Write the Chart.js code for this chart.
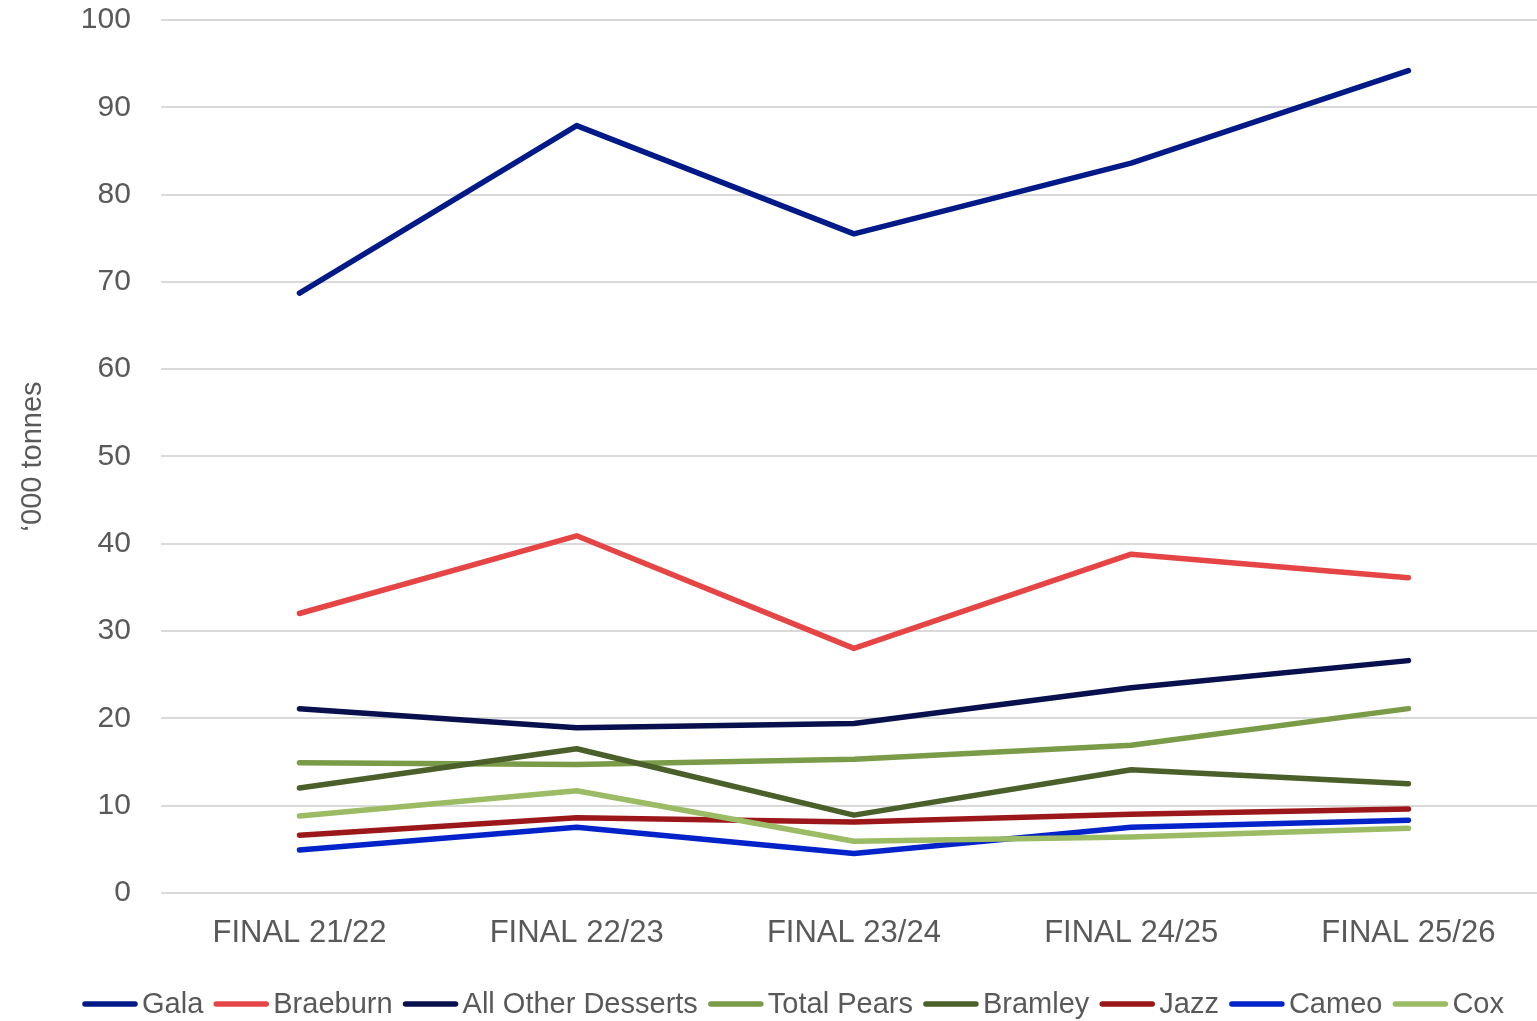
<!DOCTYPE html>
<html>
<head>
<meta charset="utf-8">
<script src="https://cdn.jsdelivr.net/npm/chart.js@4.4.1/dist/chart.umd.min.js"></script>
<style>
    html, body { margin: 0; padding: 0; background: #fff; overflow: hidden; }
    /* a touch wider than the window: the original plot runs past its right edge */
    #wrap { width: 1547px; height: 1021px; }
</style>
</head>
<body>
<div id="wrap"><canvas id="myLineChart"></canvas></div>
<script>
const seasons = ['FINAL 21/22', 'FINAL 22/23', 'FINAL 23/24', 'FINAL 24/25', 'FINAL 25/26'];

const gala = [68.7, 87.9, 75.5, 83.6, 94.2];
const braeburn = [32.0, 40.9, 28.0, 38.8, 36.1];
const allOtherDesserts = [21.1, 18.9, 19.4, 23.5, 26.6];
const totalPears = [14.9, 14.7, 15.3, 16.9, 21.1];
const bramley = [12.0, 16.5, 8.9, 14.1, 12.5];
const jazz = [6.6, 8.6, 8.1, 9.0, 9.6];
const cameo = [4.9, 7.5, 4.5, 7.5, 8.3];
const cox = [8.8, 11.7, 5.9, 6.4, 7.4];

const yTicks = [0, 10, 20, 30, 40, 50, 60, 70, 80, 90, 100];

const textColor = '#595959';
const fontFamily = '"Liberation Sans", Arial, sans-serif';

function makeLine(label, values, colour, index) {
    return {
        label: label,
        data: values,
        borderColor: colour,
        backgroundColor: colour,
        borderWidth: 5.5,
        borderCapStyle: 'round',
        borderJoinStyle: 'round',
        pointRadius: 0,
        pointHoverRadius: 0,
        fill: false,
        tension: 0,
        order: 7 - index // later series sit on top, as in the original
    };
}

// legend drawn by hand: short thick line then the name, tight like the original
const lineLegend = {
    id: 'lineLegend',
    afterDraw(chart) {
        const ctx = chart.ctx;
        const y = 1004;
        const segment = 56;
        let x = 82;
        ctx.save();
        ctx.font = '29px ' + fontFamily;
        ctx.textBaseline = 'middle';
        ctx.textAlign = 'left';
        chart.data.datasets.forEach((ds) => {
            ctx.strokeStyle = ds.borderColor;
            ctx.lineWidth = 5.5;
            ctx.lineCap = 'round';
            ctx.beginPath();
            ctx.moveTo(x + 3, y);
            ctx.lineTo(x + segment - 3, y);
            ctx.stroke();
            ctx.fillStyle = textColor;
            ctx.fillText(ds.label, x + segment + 4, y + 1);
            x += segment + 4 + ctx.measureText(ds.label).width + 10;
        });
        ctx.restore();
    }
};

const data = {
    labels: seasons,
    datasets: [
        makeLine('Gala', gala, '#021A88', 0),
        makeLine('Braeburn', braeburn, '#E64545', 1),
        makeLine('All Other Desserts', allOtherDesserts, '#08104D', 2),
        makeLine('Total Pears', totalPears, '#7A9B47', 3),
        makeLine('Bramley', bramley, '#4B5F2B', 4),
        makeLine('Jazz', jazz, '#9C1719', 5),
        makeLine('Cameo', cameo, '#0323CA', 6),
        makeLine('Cox', cox, '#9BBB65', 7)
    ]
};

const config = {
    type: 'line',
    data: data,
    plugins: [lineLegend],
    options: {
        responsive: true,
        maintainAspectRatio: false,
        animation: false,
        layout: {
            padding: { top: 20, right: 0, bottom: 47, left: 0 }
        },
        plugins: {
            tooltip: { enabled: false },
            legend: { display: false }
        },
        scales: {
            x: {
                offset: true,
                grid: { display: false, drawTicks: false },
                border: { display: false },
                ticks: {
                    color: textColor,
                    padding: 22,
                    maxRotation: 0,
                    font: { family: fontFamily, size: 31 }
                }
            },
            y: {
                min: 0,
                max: 100,
                afterBuildTicks: (axis) => {
                    axis.ticks = yTicks.map(v => ({ value: v }));
                },
                // tick padding would otherwise push the plot down from the top
                afterFit: (axis) => {
                    axis.paddingTop = 0;
                    axis.paddingBottom = 0;
                },
                grid: { color: '#d9d9d9', lineWidth: 2, drawTicks: false },
                border: { display: false },
                ticks: {
                    color: textColor,
                    padding: 30,
                    font: { family: fontFamily, size: 30 }
                },
                title: {
                    display: true,
                    text: '\u2018000 tonnes',
                    color: textColor,
                    padding: { top: 16, bottom: 0 },
                    font: { family: fontFamily, size: 29 }
                }
            }
        }
    }
};

const myLineChart = new Chart(
    document.getElementById('myLineChart'),
    config
);
</script>
</body>
</html>
